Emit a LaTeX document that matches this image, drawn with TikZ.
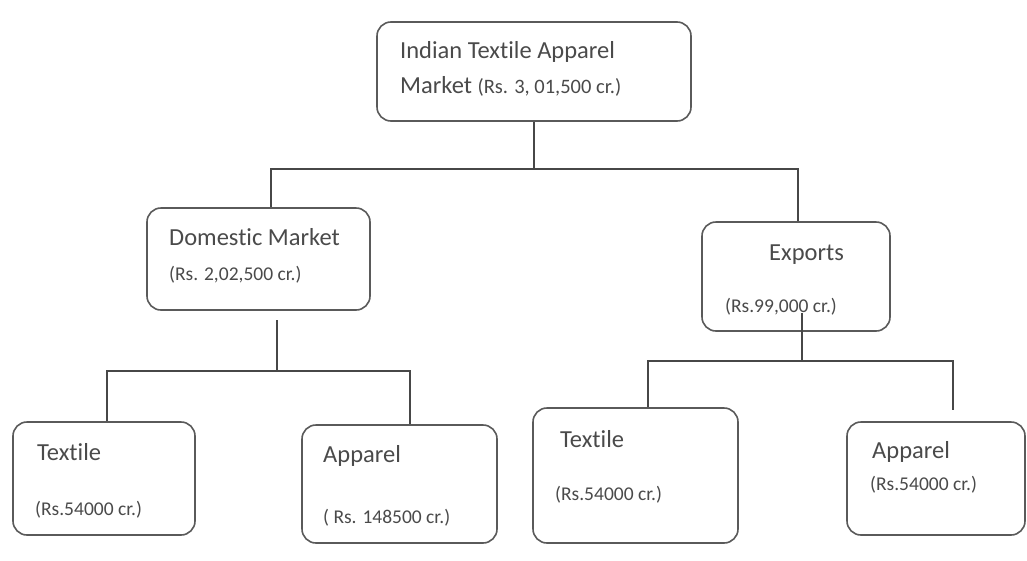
\documentclass[tikz,border=0pt]{standalone}
\usepackage{fontspec}
\setmainfont[Ligatures=NoCommon]{Carlito}
\usepackage{tikz}
\usetikzlibrary{calc,positioning}
\definecolor{boxline}{HTML}{5A5A5A}
\definecolor{txtgray}{HTML}{4A4A4A}
\newcommand{\amtsize}{\fontsize{19.5}{23}\selectfont}
\tikzset{
  seg/.style={shape=rectangle,rounded corners=14pt,draw=boxline,line width=1.6pt,fill=white,inner sep=0pt},
  head/.style={anchor=base west,inner sep=0pt,text=txtgray,font=\fontsize{24.5}{29}\selectfont},
  amt/.style={anchor=base west,inner sep=0pt,text=txtgray,font=\amtsize},
  link/.style={draw=black!72,line width=1.3pt}
}

\begin{document}
\begin{tikzpicture}[x=1pt,y=-1pt]
	\useasboundingbox[fill=white] (0,0) rectangle (1027,560);
	% boxes
	\node(top) [seg,minimum width=314pt,minimum height=99pt] at (534,71.5) {};
	\node(dom) [seg,minimum width=223pt,minimum height=102pt] at (258.5,259) {};
	\node(exp) [seg,minimum width=188pt,minimum height=109pt] at (796,276.5) {};
	\node(tex1) [seg,minimum width=182pt,minimum height=113pt] at (104,478.5) {};
	\node(app1) [seg,minimum width=195pt,minimum height=118pt] at (399.5,484) {};
	\node(tex2) [seg,minimum width=205pt,minimum height=135pt] at (635.5,475.5) {};
	\node(app2) [seg,minimum width=178pt,minimum height=113pt] at (936,478.5) {};
	% texts
	\node(topa) [head] at (400,58) {Indian Textile Apparel};
	\node(topb) [head] at (400,93) {Market {\fontsize{20.5}{24}\selectfont(Rs. 3, 01,500 cr.)}};
	\node(doma) [head] at (169,245) {Domestic Market};
	\node(domb) [amt] at (169,280) {(Rs. 2,02,500 cr.)};
	\node(expa) [head] at (769,260) {Exports};
	\node(expb) [amt] at (725,312) {(Rs.99,000 cr.)};
	\node(tex1a) [head] at (37,460) {Textile};
	\node(tex1b) [amt] at (35,515) {(Rs.54000 cr.)};
	\node(app1a) [head] at (323,462) {Apparel};
	\node(app1b) [amt] at (323,523) {( Rs. 148500 cr.)};
	\node(tex2a) [head] at (560,447) {Textile};
	\node(tex2b) [amt] at (555,500) {(Rs.54000 cr.)};
	\node(app2a) [head] at (872,458) {Apparel};
	\node(app2b) [amt] at (870,490) {(Rs.54000 cr.)};
	% tree lines
	\coordinate (bL) at (271,169);
	\coordinate (bR) at (798,169);
	\draw[link] (top.south) -- (top.south |- bL);
	\draw[link] (bL |- dom.north) -- (bL) -- (bR) -- (bR |- exp.north);
	\coordinate (d0) at (277,320);
	\coordinate (dL) at (107,371);
	\coordinate (dR) at (410,371);
	\draw[link] (d0) -- (d0 |- dL);
	\draw[link] (dL |- tex1.north) -- (dL) -- (dR) -- (dR |- app1.north);
	\coordinate (e0) at (802,313);
	\coordinate (eL) at (648,361);
	\coordinate (eR) at (953,361);
	\coordinate (e1) at (953,410);
	\draw[link] (e0) -- (e0 |- eL);
	\draw[link] (eL |- tex2.north) -- (eL) -- (eR) -- (e1);
\end{tikzpicture}
\end{document}
